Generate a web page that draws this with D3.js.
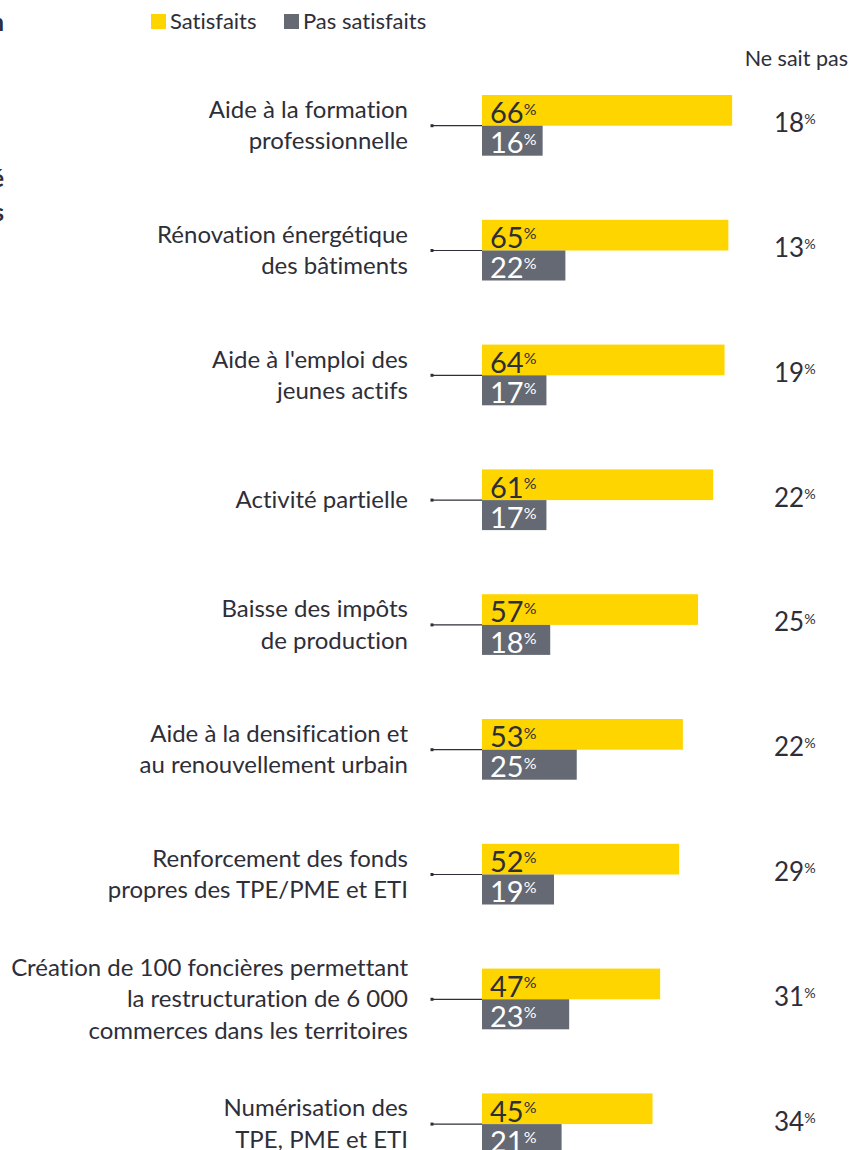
<!DOCTYPE html>
<html>
<head>
<meta charset="utf-8">
<script src="https://cdn.jsdelivr.net/npm/d3@7"></script>
<style>
  body { margin: 0; background: #fff; }
  svg { display: block; font-family: Lato, "Open Sans", sans-serif; font-variant-ligatures: none; }
</style>
</head>
<body>
<div id="chart"></div>
<script>
// measures, one entry per row (label lines split where the original breaks them)
const categories = [
  ["Aide à la formation", "professionnelle"],
  ["Rénovation énergétique", "des bâtiments"],
  ["Aide à l'emploi des", "jeunes actifs"],
  ["Activité partielle"],
  ["Baisse des impôts", "de production"],
  ["Aide à la densification et", "au renouvellement urbain"],
  ["Renforcement des fonds", "propres des TPE/PME et ETI"],
  ["Création de 100 foncières permettant", "la restructuration de 6 000", "commerces dans les territoires"],
  ["Numérisation des", "TPE, PME et ETI"]
];
const satisfaits = [66, 65, 64, 61, 57, 53, 52, 47, 45];
const pasSatisfaits = [16, 22, 17, 17, 18, 25, 19, 23, 21];
const neSaitPas = [18, 13, 19, 22, 25, 22, 29, 31, 34];

const legendItems = ["Satisfaits", "Pas satisfaits"];
// end of a title block that is cut off at the left edge
const cutTitle = [{ t: "n", y: 31 }, { t: "é", y: 187 }, { t: "s", y: 221 }];

const width = 851, height = 1150;
const yellow = "#FFD500", grey = "#646973", ink = "#2E2E38";
const barH = 30;

const svg = d3.select("#chart").append("svg")
  .attr("width", width)
  .attr("height", height);

const x = d3.scaleLinear().domain([0, 100]).range([482, 861]);
const y = d3.scalePoint()
  .domain(d3.range(categories.length))
  .range([125.7, 1124.1]);

// cut title on the left
svg.append("g").selectAll("text")
  .data(cutTitle)
  .join("text")
  .attr("x", 4)
  .attr("y", d => d.y)
  .attr("text-anchor", "end")
  .attr("font-size", 24)
  .attr("font-weight", "bold")
  .attr("fill", ink)
  .text(d => "Titre" + d.t);

// legend
const legend = svg.append("g");
const legendX = [151, 284];
legendItems.forEach((name, i) => {
  legend.append("rect")
    .attr("x", legendX[i]).attr("y", 14)
    .attr("width", 15).attr("height", 15)
    .attr("fill", i == 0 ? yellow : grey);
  legend.append("text")
    .attr("x", legendX[i] + 19).attr("y", 29)
    .attr("font-size", 22)
    .attr("fill", ink)
    .text(name);
});

svg.append("text")
  .attr("x", 848).attr("y", 66)
  .attr("text-anchor", "end")
  .attr("font-size", 21.5)
  .attr("fill", ink)
  .text("Ne sait pas");

const rows = svg.append("g").selectAll("g")
  .data(categories.map((c, i) => ({
    lines: c, sat: satisfaits[i], pas: pasSatisfaits[i], nsp: neSaitPas[i], i: i
  })))
  .join("g")
  .attr("transform", d => "translate(0," + y(d.i) + ")");

// category labels, right aligned
rows.append("text")
  .attr("text-anchor", "end")
  .attr("font-size", 24)
  .attr("fill", ink)
  .selectAll("tspan")
  .data(d => d.lines.map((l, j) => ({ l: l, j: j, n: d.lines.length })))
  .join("tspan")
  .attr("x", 408)
  .attr("y", d => 8 + (d.j - (d.n - 1) / 2) * 31.5)
  .text(d => d.l);

// connector
rows.append("line")
  .attr("x1", 432).attr("x2", x(0))
  .attr("y1", 0).attr("y2", 0)
  .attr("stroke", ink)
  .attr("stroke-width", 1.2);
rows.append("rect")
  .attr("x", 430.5).attr("y", -1.5)
  .attr("width", 3).attr("height", 3)
  .attr("fill", ink);

// bars
rows.append("rect")
  .attr("x", x(0)).attr("y", -barH - 0.7)
  .attr("width", d => x(d.sat) - x(0))
  .attr("height", barH + 0.7)
  .attr("fill", yellow);
rows.append("rect")
  .attr("x", x(0)).attr("y", 0)
  .attr("width", d => x(d.pas) - x(0))
  .attr("height", barH)
  .attr("fill", grey);

function pct(sel, value, size) {
  sel.append("tspan").text(value);
  sel.append("tspan")
    .attr("font-size", size * 0.55)
    .attr("dy", -size * 0.3)
    .text("%");
}

rows.append("text")
  .attr("x", 490).attr("y", -2.5)
  .attr("font-size", 29)
  .attr("fill", ink)
  .each(function(d) { pct(d3.select(this), d.sat, 29); });

rows.append("text")
  .attr("x", 490).attr("y", 27.6)
  .attr("font-size", 29)
  .attr("fill", "#fff")
  .each(function(d) { pct(d3.select(this), d.pas, 29); });

rows.append("text")
  .attr("x", 774).attr("y", 6.5)
  .attr("font-size", 26)
  .attr("fill", ink)
  .each(function(d) { pct(d3.select(this), d.nsp, 26); });
</script>
</body>
</html>
